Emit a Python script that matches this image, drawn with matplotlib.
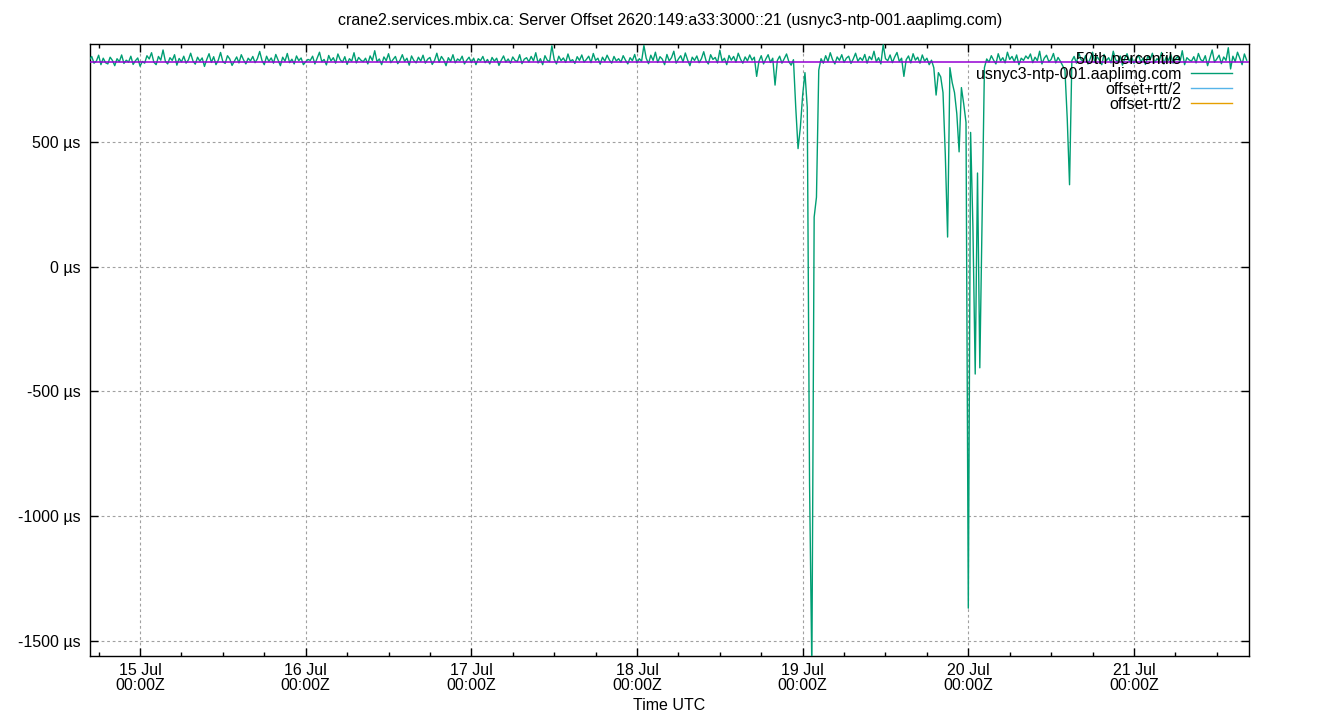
import numpy as np
import pandas as pd
import matplotlib
matplotlib.use('Agg')
import matplotlib.pyplot as plt
import matplotlib.dates as mdates
from matplotlib.lines import Line2D

plt.rcParams['font.family'] = ['Liberation Sans', 'DejaVu Sans']
plt.rcParams['font.size'] = 11.5

title = 'crane2.services.mbix.ca: Server Offset 2620:149:a33:3000::21 (usnyc3-ntp-001.aaplimg.com)'
server_name = 'usnyc3-ntp-001.aaplimg.com'

# offsets in microseconds, one sample every 20 minutes starting 14 Jul 16:40Z
# (one row = 8 hours of samples)
first_sample = '2023-07-14 16:40'
sample_step = '20min'
offsets_us = [
    832, 845, 818, 826, 850, 812, 838, 820, 815, 842, 829, 808, 836, 824, 851, 817, 830, 822, 846, 813, 828, 839, 806, 825,
    818, 848, 835, 860, 822, 812, 845, 830, 871, 826, 815, 840, 829, 852, 810, 837, 823, 846, 818, 831, 858, 827, 814, 842,
    826, 839, 805, 833, 856, 821, 844, 812, 830, 861, 824, 817, 848, 835, 809, 826, 843, 819, 852, 831, 815, 838, 827, 845,
    820, 836, 865, 829, 812, 846, 825, 839, 818, 853, 831, 808, 842, 826, 857, 820, 834, 815, 847, 828, 839, 812, 824, 833,
    829, 846, 815, 838, 862, 824, 833, 811, 849, 827, 840, 818, 855, 832, 822, 844, 813, 836, 826, 860, 819, 841, 830, 824,
    838, 815, 847, 829, 868, 824, 835, 812, 843, 828, 856, 820, 833, 845, 816, 830, 852, 825, 838, 810, 847, 829, 819, 842,
    826, 850, 818, 834, 841, 813, 829, 858, 822, 845, 831, 808, 840, 825, 852, 819, 835, 828, 846, 815, 830, 842, 820, 838,
    812, 836, 828, 845, 820, 833, 815, 841, 826, 838, 809, 830, 847, 822, 835, 818, 843, 829, 825, 852, 816, 834, 840, 823,
    845, 827, 860, 819, 836, 812, 848, 830, 824, 888, 833, 815, 846, 828, 839, 821, 855, 826, 832, 817, 844, 829, 851, 822,
    833, 846, 820, 857, 829, 838, 814, 842, 826, 850, 831, 818, 845, 827, 836, 822, 848, 830, 815, 840, 828, 853, 819, 836,
    826, 889, 838, 816, 850, 829, 862, 821, 844, 834, 812, 853, 827, 840, 866, 818, 835, 848, 823, 859, 831, 808, 842, 829,
    847, 820, 836, 864, 828, 815, 852, 833, 841, 819, 870, 826, 838, 812, 849, 830, 845, 822, 858, 834, 818, 843, 827, 851,
    830, 842, 765, 826, 848, 815, 835, 852, 821, 838, 730, 829, 846, 818, 836, 855, 824, 810, 832, 640, 475, 560, 690, 780,
    640, -870, -1620, 200, 280, 790, 836, 818, 848, 825, 860, 832, 815, 843, 829, 852, 821, 838, 846, 817, 835, 858, 826, 840,
    829, 853, 818, 845, 832, 866, 824, 840, 815, 892, 836, 828, 851, 820, 843, 861, 825, 838, 765, 832, 847, 819, 856, 830,
    842, 818, 851, 826, 838, 812, 830, 800, 690, 780, 763, 700, 450, 120, 800, 740, 700, 615, 462, 720, 655, 580, -1370, 540,
    160, -430, 377, -405, 205, 800, 835, 822, 848, 830, 815, 856, 827, 840, 819, 862, 833, 845, 824, 851, 812, 838, 829, 847,
    836, 855, 820, 842, 828, 866, 815, 838, 850, 824, 833, 857, 819, 841, 826, 808, 790, 595, 330, 828, 845, 818, 860, 832,
    826, 849, 815, 837, 862, 821, 844, 830, 812, 853, 828, 840, 819, 866, 832, 824, 847, 810, 838, 856, 825, 842, 817, 835,
    850, 822, 839, 813, 846, 831, 858, 820, 836, 827, 861, 815, 843, 829, 852, 818, 834, 845, 823, 868, 812, 840, 831, 826,
    844, 819, 857, 832, 826, 848, 808, 839, 871, 822, 835, 850, 816, 843, 829, 880, 795, 846, 824, 862, 838, 812, 855, 830,
]
p50_us = 823  # 50th percentile line

y_ticks = [-1500, -1000, -500, 0, 500]
y_range = (-1562, 895)
x_range = ('2023-07-14 16:45', '2023-07-21 16:40')

times = pd.date_range(first_sample, periods=len(offsets_us), freq=sample_step)

fig = plt.figure(figsize=(13.4, 7.2), dpi=100)
ax = fig.add_axes([90 / 1340, 1 - 656 / 720, 1159 / 1340, 612 / 720])

ax.plot(times, offsets_us, color='#009e73', lw=1.0, zorder=3)
ax.axhline(p50_us, color='#9400d3', lw=1.1, zorder=4)

ax.set_xlim(pd.Timestamp(x_range[0]), pd.Timestamp(x_range[1]))
ax.set_ylim(*y_range)
ax.set_yticks(y_ticks)
ax.set_yticklabels([f'{v} µs' for v in y_ticks])

ax.xaxis.set_major_locator(mdates.DayLocator())
ax.xaxis.set_minor_locator(mdates.HourLocator(byhour=[6, 12, 18]))
ax.xaxis.set_major_formatter(mdates.DateFormatter('%d %b\n%H:%MZ'))

ax.tick_params(which='both', direction='in', top=True, right=True, color='black')
ax.tick_params(which='major', length=6, width=1.0)
ax.tick_params(which='minor', length=3, width=1.0)
ax.tick_params(axis='y', pad=7)
ax.tick_params(axis='x', pad=5)

ax.grid(True, which='major', color='#a0a0a0', lw=0.8, linestyle=(0, (2.5, 2.5)))
for s in ax.spines.values():
    s.set_linewidth(1.0)
    s.set_color('black')

ax.set_xlabel('Time UTC', labelpad=4)
fig.text(0.5, 1 - 20 / 720, title, ha='center', va='center')

# legend: first entry has no sample line
handles = [Line2D([], [], color='none'),
           Line2D([], [], color='#009e73', lw=1.0),
           Line2D([], [], color='#56b4e9', lw=1.0),
           Line2D([], [], color='#e69f00', lw=1.0)]
labels = ['50th percentile', server_name, 'offset+rtt/2', 'offset-rtt/2']
ax.legend(handles, labels, loc='upper right', bbox_to_anchor=(0.9905, 0.996),
          frameon=False, markerfirst=False, labelspacing=0.0, handlelength=2.6,
          handletextpad=0.6, borderaxespad=0.0, borderpad=0.35)

fig.canvas.draw()
for lbl in ax.get_xticklabels():
    lbl.set_linespacing(1.0)

fig.savefig('out.png', dpi=100)
